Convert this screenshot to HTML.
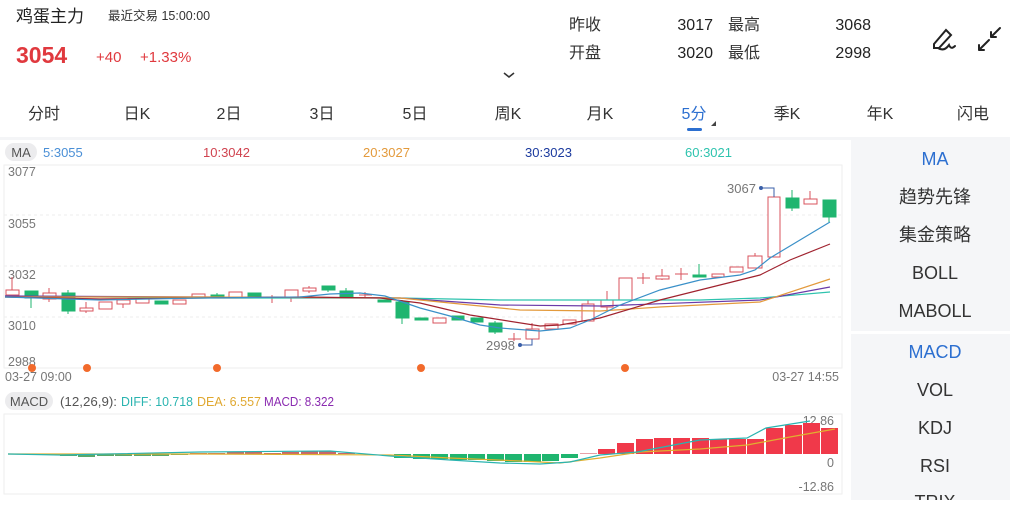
<!DOCTYPE html>
<html><head><meta charset="utf-8"><style>
body{margin:0;width:1010px;height:500px;overflow:hidden;background:#fff;font-family:"Liberation Sans","Noto Sans CJK SC",sans-serif;}
svg text{font-family:"Liberation Sans","Noto Sans CJK SC",sans-serif;}
</style></head><body>
<svg width="1010" height="500" viewBox="0 0 1010 500" xmlns="http://www.w3.org/2000/svg">
<rect width="1010" height="500" fill="#fff"/>
<!-- header -->
<text x="16" y="22" font-size="17" fill="#222">鸡蛋主力</text>
<text x="108" y="20" font-size="12.5" fill="#333">最近交易 15:00:00</text>
<text x="16" y="63" font-size="23" font-weight="bold" fill="#e0393e">3054</text>
<text x="96" y="62" font-size="15" fill="#e0393e">+40</text>
<text x="140" y="62" font-size="15" fill="#e0393e">+1.33%</text>
<g font-size="16" fill="#333">
<text x="569" y="30">昨收</text><text x="713" y="30" text-anchor="end" fill="#222">3017</text>
<text x="728" y="30">最高</text><text x="871" y="30" text-anchor="end" fill="#222">3068</text>
<text x="569" y="58">开盘</text><text x="713" y="58" text-anchor="end" fill="#222">3020</text>
<text x="728" y="58">最低</text><text x="871" y="58" text-anchor="end" fill="#222">2998</text>
</g>
<path d="M504 73 L509 77 L514 73" stroke="#333" stroke-width="1.6" fill="none"/>
<g stroke="#222" stroke-width="2" fill="none" stroke-linecap="round">
<path d="M934 44 L946 30 L951 35 L939 48 L934 48 Z"/>
<path d="M938 48 Q944 52 949 45 Q951 50 955 46"/>
<path d="M979 50 L989 40 M979 50 L979 45 M979 50 L984 50"/>
<path d="M1000 28 L991 37 M991 37 L991 32 M991 37 L996 37"/>
</g>
<!-- tabs -->
<g font-size="16" fill="#333" text-anchor="middle">
<text x="44" y="119">分时</text><text x="137" y="119">日K</text><text x="229" y="119">2日</text>
<text x="322" y="119">3日</text><text x="415" y="119">5日</text><text x="508" y="119">周K</text>
<text x="600" y="119">月K</text><text x="694" y="119" fill="#2c6fd0">5分</text><text x="787" y="119">季K</text>
<text x="880" y="119">年K</text><text x="973" y="119">闪电</text>
</g>
<rect x="687" y="128" width="15" height="3" rx="1.5" fill="#2c6fd0"/>
<path d="M711 126 L716 121 L716 126 Z" fill="#444"/>
<rect x="0" y="137" width="1010" height="3" fill="#f4f5f7"/>
<!-- right panel -->
<rect x="851" y="140" width="159" height="360" fill="#f5f6f8"/>
<rect x="851" y="331" width="159" height="3" fill="#fff"/>
<g font-size="18" fill="#333" text-anchor="middle">
<text x="935" y="165" fill="#2c6fd0">MA</text>
<text x="935" y="203">趋势先锋</text>
<text x="935" y="241">集金策略</text>
<text x="935" y="279">BOLL</text>
<text x="935" y="317">MABOLL</text>
<text x="935" y="358" fill="#2c6fd0">MACD</text>
<text x="935" y="396">VOL</text>
<text x="935" y="434">KDJ</text>
<text x="935" y="472">RSI</text>
<text x="935" y="508">TRIX</text>
</g>
<!-- MA legend -->
<rect x="5" y="143" width="32" height="18" rx="9" fill="#ececee"/>
<text x="21" y="157" font-size="13" fill="#555" text-anchor="middle">MA</text>
<g font-size="13">
<text x="43" y="157" fill="#4a8fd6">5:3055</text>
<text x="203" y="157" fill="#d0434f">10:3042</text>
<text x="363" y="157" fill="#e39a3c">20:3027</text>
<text x="525" y="157" fill="#1b3a9e">30:3023</text>
<text x="685" y="157" fill="#2ec3ae">60:3021</text>
</g>
<!-- grid -->
<g stroke="#eee" stroke-width="1">
<rect x="4" y="165" width="838" height="203" fill="none"/>
<line x1="4" y1="215" x2="842" y2="215" stroke-dasharray="3,3"/>
<line x1="4" y1="266" x2="842" y2="266" stroke-dasharray="3,3"/>
<line x1="4" y1="317" x2="842" y2="317" stroke-dasharray="3,3"/>
</g>
<g font-size="12.5" fill="#777">
<text x="8" y="176">3077</text><text x="8" y="228">3055</text><text x="8" y="279">3032</text>
<text x="8" y="330">3010</text><text x="8" y="366">2988</text>
<text x="5" y="381">03-27 09:00</text><text x="839" y="381" text-anchor="end">03-27 14:55</text>
</g>
<!-- candles -->
<g stroke-width="1">
<g stroke="#d9535c" fill="#fff">
<line x1="12" y1="277" x2="12" y2="290"/><rect x="6" y="290" width="13" height="5"/>
<line x1="49" y1="288" x2="49" y2="302"/><rect x="43" y="293" width="13" height="6"/>
<line x1="86" y1="302" x2="86" y2="313"/><rect x="80" y="308" width="13" height="3"/>
<rect x="99" y="302" width="13" height="7"/>
<line x1="123" y1="300" x2="123" y2="308"/><rect x="117" y="300" width="13" height="4"/>
<rect x="136" y="299" width="13" height="4"/>
<rect x="173" y="300" width="13" height="4"/>
<rect x="192" y="294" width="13" height="3"/>
<rect x="229" y="292" width="13" height="5"/>
<line x1="272" y1="295" x2="272" y2="303"/><line x1="266" y1="297" x2="279" y2="297"/>
<line x1="291" y1="290" x2="291" y2="302"/><rect x="285" y="290" width="13" height="7"/>
<line x1="309" y1="286" x2="309" y2="293"/><rect x="303" y="288" width="13" height="3"/>
<line x1="365" y1="292" x2="365" y2="298"/><line x1="359" y1="295" x2="372" y2="295"/>
<rect x="433" y="318" width="13" height="5"/>
<line x1="514" y1="333" x2="514" y2="341"/><line x1="508" y1="339" x2="521" y2="339"/>
<line x1="532" y1="323" x2="532" y2="345"/><rect x="526" y="329" width="13" height="10"/>
<rect x="545" y="324" width="13" height="5"/>
<rect x="563" y="320" width="13" height="4"/>
<line x1="588" y1="300" x2="588" y2="304"/><rect x="582" y="304" width="12" height="17"/>
<line x1="607" y1="291" x2="607" y2="310"/><rect x="601" y="300" width="12" height="7"/>
<rect x="619" y="278" width="13" height="22"/>
<line x1="643" y1="273" x2="643" y2="284"/><line x1="637" y1="278" x2="650" y2="278"/>
<line x1="662" y1="269" x2="662" y2="280"/><rect x="656" y="276" width="13" height="3"/>
<line x1="681" y1="268" x2="681" y2="280"/><line x1="675" y1="274" x2="688" y2="274"/>
<rect x="712" y="274" width="12" height="3"/>
<rect x="730" y="267" width="13" height="5"/>
<line x1="755" y1="253" x2="755" y2="256"/><rect x="748" y="256" width="14" height="12"/>
<rect x="768" y="197" width="12" height="60"/>
<line x1="810" y1="191" x2="810" y2="199"/><rect x="804" y="199" width="13" height="5"/>
</g>
<g stroke="#1fb56f" fill="#1fb56f">
<line x1="31" y1="291" x2="31" y2="308"/><rect x="25" y="291" width="13" height="7"/>
<line x1="68" y1="290" x2="68" y2="314"/><rect x="62" y="293" width="13" height="18"/>
<rect x="155" y="301" width="13" height="3"/>
<line x1="217" y1="293" x2="217" y2="298"/><rect x="211" y="295" width="13" height="3"/>
<rect x="248" y="293" width="13" height="5"/>
<line x1="328" y1="286" x2="328" y2="292"/><rect x="322" y="286" width="13" height="4"/>
<line x1="346" y1="288" x2="346" y2="297"/><rect x="340" y="291" width="13" height="6"/>
<rect x="378" y="300" width="13" height="2"/>
<line x1="402" y1="300" x2="402" y2="324"/><rect x="396" y="302" width="13" height="16"/>
<rect x="415" y="318" width="13" height="2"/>
<rect x="452" y="316" width="12" height="4"/>
<rect x="471" y="318" width="12" height="4"/>
<line x1="495" y1="321" x2="495" y2="334"/><rect x="489" y="323" width="13" height="9"/>
<line x1="699" y1="264" x2="699" y2="276"/><rect x="693" y="275" width="13" height="2"/>
<line x1="792" y1="190" x2="792" y2="211"/><rect x="786" y="198" width="13" height="10"/>
<line x1="829" y1="200" x2="829" y2="222"/><rect x="823" y="200" width="13" height="17"/>
</g>
</g>
<!-- MA lines -->
<g fill="none" stroke-width="1.2">
<polyline stroke="#2ec3ae" points="5,296 200,298 400,298 500,300 700,300 760,298 830,292"/>
<polyline stroke="#6a3aa8" points="5,296 200,297 400,298 500,305 600,306 760,300 830,287"/>
<polyline stroke="#e39a3c" points="5,297 200,297 400,298 470,305 520,310 600,311 660,307 760,302 830,279"/>
<polyline stroke="#a0232f" points="5,297 100,299 300,297 380,298 420,303 470,315 540,326 560,325 600,318 660,300 720,285 760,275 790,260 830,244"/>
<polyline stroke="#3a90c8" points="5,297 100,300 200,298 300,297 330,294 360,293 385,296 420,308 450,316 480,325 500,328 540,331 570,328 590,320 620,305 660,290 700,280 740,275 755,270 770,258 800,240 830,222"/>
</g>
<g font-size="13" fill="#777">
<text x="727" y="193">3067</text><text x="486" y="350">2998</text>
</g>
<g stroke="#3a5fa8" fill="none" stroke-width="1"><polyline points="761,188 774,188 774,197"/><polyline points="520,345 532,345 532,339"/></g>
<circle cx="761" cy="188" r="2" fill="#3a5fa8"/><circle cx="520" cy="345" r="2" fill="#3a5fa8"/>
<g fill="#f26a2b">
<circle cx="32" cy="368" r="4"/><circle cx="87" cy="368" r="4"/><circle cx="217" cy="368" r="4"/><circle cx="421" cy="368" r="4"/><circle cx="625" cy="368" r="4"/>
</g>
<!-- MACD legend -->
<rect x="5" y="392" width="48" height="18" rx="9" fill="#ececee"/>
<text x="29" y="406" font-size="13" fill="#555" text-anchor="middle">MACD</text>
<text x="60" y="406" font-size="13" fill="#555" textLength="57" lengthAdjust="spacingAndGlyphs">(12,26,9):</text>
<text x="121" y="406" font-size="13" fill="#2ab4b0" textLength="72" lengthAdjust="spacingAndGlyphs">DIFF: 10.718</text>
<text x="197" y="406" font-size="13" fill="#e0a830" textLength="64" lengthAdjust="spacingAndGlyphs">DEA: 6.557</text>
<text x="264" y="406" font-size="13" fill="#8a2ab0" textLength="70" lengthAdjust="spacingAndGlyphs">MACD: 8.322</text>
<rect x="4" y="414" width="838" height="80" fill="none" stroke="#eee"/>
<g font-size="12.5" fill="#777" text-anchor="end">
<text x="834" y="425">12.86</text><text x="834" y="467">0</text><text x="834" y="491">-12.86</text>
</g>
<!-- MACD bars -->
<g fill="#5aa86a"><rect x="60" y="454" width="17" height="2"/><rect x="78" y="454" width="17" height="3"/><rect x="97" y="454" width="17" height="2"/><rect x="115" y="454" width="17" height="2"/><rect x="134" y="454" width="17" height="2"/><rect x="152" y="454" width="17" height="2"/><rect x="171" y="454" width="17" height="1"/></g>
<g fill="#c7676a">
<rect x="190" y="453" width="17" height="1"/><rect x="208" y="453" width="17" height="1"/><rect x="227" y="452" width="17" height="2"/><rect x="245" y="452" width="17" height="2"/><rect x="264" y="453" width="17" height="1"/><rect x="282" y="452" width="17" height="2"/><rect x="301" y="451" width="17" height="3"/><rect x="319" y="451" width="17" height="3"/><rect x="338" y="453" width="17" height="1"/>
</g>
<g fill="#1fb56f">
<rect x="394" y="454" width="17" height="4"/><rect x="413" y="454" width="17" height="5"/><rect x="431" y="454" width="17" height="5"/><rect x="450" y="454" width="17" height="6"/><rect x="468" y="454" width="17" height="6"/><rect x="487" y="454" width="17" height="7"/><rect x="505" y="454" width="17" height="8"/><rect x="524" y="454" width="17" height="8"/><rect x="542" y="454" width="17" height="7"/><rect x="561" y="454" width="17" height="4"/>
</g>
<g fill="#f0394a">
<rect x="580" y="453" width="17" height="1" fill="#e8a0a6"/>
<rect x="598" y="449" width="17" height="5"/><rect x="617" y="443" width="17" height="11"/><rect x="636" y="439" width="17" height="15"/><rect x="654" y="438" width="17" height="16"/><rect x="673" y="438" width="17" height="16"/><rect x="692" y="438" width="17" height="16"/><rect x="710" y="439" width="17" height="15"/><rect x="729" y="439" width="17" height="15"/><rect x="747" y="439" width="17" height="15"/><rect x="766" y="428" width="17" height="26"/><rect x="785" y="425" width="17" height="29"/><rect x="803" y="423" width="17" height="31"/><rect x="821" y="428" width="17" height="26"/>
</g>
<g fill="none" stroke-width="1.2">
<polyline stroke="#e0b030" points="8,454 200,454 390,455 450,458 520,461 560,463 600,458 640,452 700,449 747,445 790,437 835,429"/>
<polyline stroke="#2ab4b0" points="8,454 60,455 200,452 330,451 390,456 450,460 500,463 540,464 570,462 600,455 637,452 700,440 747,438 766,428 810,421"/>
</g>
</svg>
</body></html>
